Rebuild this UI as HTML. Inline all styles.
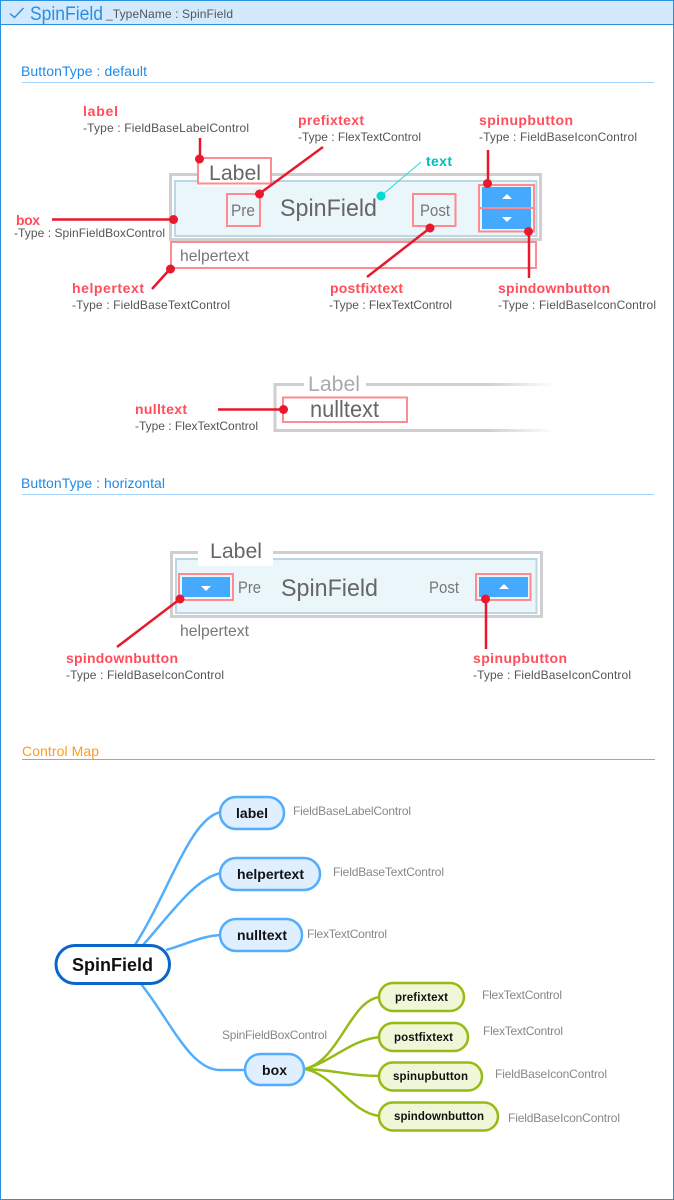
<!DOCTYPE html>
<html><head><meta charset="utf-8">
<style>
html,body{margin:0;padding:0;background:#fff}
svg{display:block}
text{font-family:"Liberation Sans",sans-serif}
.n{font-weight:bold;font-size:14px;fill:#ff4d5a}
.t{font-size:12px;fill:#555}
.g{font-size:16px;fill:#777}
.g2{font-size:16.500px;fill:#777}
.h{font-size:14px;fill:#1e8be8}
.c{font-size:12px;fill:#888}
.l{font-weight:bold;font-size:14px;fill:#111}
.s{font-weight:bold;font-size:11.500px;fill:#111}
</style></head><body>
<svg width="674" height="1200" viewBox="0 0 674 1200" xmlns="http://www.w3.org/2000/svg">
<defs>
<linearGradient id="fade" gradientUnits="userSpaceOnUse" x1="274" y1="0" x2="555" y2="0">
<stop offset="0" stop-color="#cfcfcf"/><stop offset=".76" stop-color="#cfcfcf"/><stop offset="1" stop-color="#fff"/>
</linearGradient>
</defs>
<rect width="674" height="1200" fill="#fff"/>
<rect x="1" y="1" width="672" height="23" fill="#d2e9fe"/>
<rect x="0" y="0" width="674" height="1" fill="#2a90e0"/>
<rect x="0" y="1199" width="674" height="1" fill="#2a90e0"/>
<rect x="0" y="0" width="1" height="1200" fill="#2a90e0"/>
<rect x="673" y="0" width="1" height="1200" fill="#2a90e0"/>
<rect x="0" y="24" width="674" height="1" fill="#2a90e0"/>
<path d="M10 13.500 L14.500 17.500 L23.500 8" fill="none" stroke="#2a90e0" stroke-width="1.500"/>
<text x="30" y="20" font-size="19.500" fill="#2a90e0" textLength="73" lengthAdjust="spacingAndGlyphs">SpinField</text>
<text x="106" y="18" font-size="12" fill="#555" textLength="127">_TypeName : SpinField</text>

<!-- default -->
<text x="21" y="76" class="h" textLength="126">ButtonType : default</text>
<line x1="22" y1="82.500" x2="654" y2="82.500" stroke="#a3d3fb"/>
<rect x="170.500" y="174.500" width="370" height="65" fill="#fff" stroke="#cfcfcf" stroke-width="3"/>
<rect x="175" y="181" width="361.500" height="55" fill="#eaf6f9" stroke="#bdd7e2" stroke-width="2"/>
<rect x="197" y="175" width="75" height="12" fill="#fff"/>
<rect x="198" y="158" width="73" height="25.500" fill="#fff" stroke="#ff8a8f" stroke-width="2"/>
<text x="209" y="180" font-size="21.500" fill="#666" textLength="52" lengthAdjust="spacingAndGlyphs">Label</text>
<rect x="227" y="194" width="33" height="32" fill="none" stroke="#ff8a8f" stroke-width="2"/>
<text x="231" y="216" class="g2" textLength="24" lengthAdjust="spacingAndGlyphs">Pre</text>
<text x="280" y="216" font-size="24.500" fill="#666" textLength="97" lengthAdjust="spacingAndGlyphs">SpinField</text>
<rect x="413" y="194" width="42.500" height="32" fill="none" stroke="#ff8a8f" stroke-width="2"/>
<text x="420" y="216" class="g2" textLength="30" lengthAdjust="spacingAndGlyphs">Post</text>
<rect x="482" y="187" width="49" height="20" fill="#45a9fd"/>
<rect x="482" y="209" width="49" height="20" fill="#45a9fd"/>
<rect x="479" y="185" width="55" height="46.500" fill="none" stroke="#ff8a8f" stroke-width="2"/>
<line x1="479" y1="208" x2="534" y2="208" stroke="#ff8a8f" stroke-width="2"/>
<path d="M502 199h10l-5-5z M502 217h10l-5 5z" fill="#fff"/>
<rect x="171" y="242" width="365" height="26" fill="#fff" stroke="#ff8a8f" stroke-width="2"/>
<text x="180" y="261" class="g" textLength="69" lengthAdjust="spacingAndGlyphs">helpertext</text>

<g stroke="#e8192c" stroke-width="2.500" fill="none">
<line x1="200" y1="138" x2="200" y2="159"/>
<line x1="323" y1="147" x2="259" y2="194"/>
<line x1="52" y1="219.500" x2="173" y2="219.500"/>
<line x1="152" y1="289" x2="170" y2="269"/>
<line x1="367" y1="277" x2="430" y2="228"/>
<line x1="488" y1="150" x2="488" y2="183"/>
<line x1="529" y1="231" x2="529" y2="278"/>
</g>
<line x1="381" y1="196" x2="421" y2="162" stroke="#1fdcd8" stroke-width="1"/>
<circle cx="381" cy="196" r="4.500" fill="#00dcd2"/>
<g fill="#e8192c">
<circle cx="199.500" cy="159" r="4.500"/><circle cx="259.500" cy="194" r="4.500"/>
<circle cx="173.500" cy="219.500" r="4.500"/><circle cx="170.500" cy="269" r="4.500"/>
<circle cx="430" cy="228" r="4.500"/><circle cx="487.500" cy="183.500" r="4.500"/>
<circle cx="528.500" cy="231.500" r="4.500"/>
</g>

<text x="83" y="116" class="n" textLength="35">label</text>
<text x="83" y="132" class="t" textLength="166">-Type : FieldBaseLabelControl</text>
<text x="298" y="125" class="n" textLength="66">prefixtext</text>
<text x="298" y="141" class="t" textLength="123">-Type : FlexTextControl</text>
<text x="426" y="166" font-size="14" font-weight="bold" fill="#00bfb8" textLength="26">text</text>
<text x="479" y="125" class="n" textLength="94">spinupbutton</text>
<text x="479" y="141" class="t" textLength="158">-Type : FieldBaseIconControl</text>
<text x="16" y="225" class="n" textLength="24">box</text>
<text x="14" y="237" class="t" textLength="151">-Type : SpinFieldBoxControl</text>
<text x="72" y="293" class="n" textLength="72">helpertext</text>
<text x="72" y="309" class="t" textLength="158">-Type : FieldBaseTextControl</text>
<text x="330" y="293" class="n" textLength="73">postfixtext</text>
<text x="329" y="309" class="t" textLength="123">-Type : FlexTextControl</text>
<text x="498" y="293" class="n" textLength="112">spindownbutton</text>
<text x="498" y="309" class="t" textLength="158">-Type : FieldBaseIconControl</text>

<!-- nulltext -->
<path d="M304 384.500 H275 V430.500 H555" fill="none" stroke="url(#fade)" stroke-width="3"/>
<line x1="366" y1="384.500" x2="555" y2="384.500" stroke="url(#fade)" stroke-width="3"/>
<text x="308" y="391" font-size="21.500" fill="#aaa" textLength="52" lengthAdjust="spacingAndGlyphs">Label</text>
<rect x="283" y="397.500" width="124" height="24.500" fill="#fff" stroke="#ff8a8f" stroke-width="2"/>
<line x1="218" y1="409.500" x2="283" y2="409.500" stroke="#e8192c" stroke-width="2.500"/>
<circle cx="283.500" cy="409.500" r="4.500" fill="#e8192c"/>
<text x="310" y="417" font-size="23" fill="#666" textLength="69" lengthAdjust="spacingAndGlyphs">nulltext</text>
<text x="135" y="414" class="n" textLength="52">nulltext</text>
<text x="135" y="430" class="t" textLength="123">-Type : FlexTextControl</text>

<!-- horizontal -->
<text x="21" y="488" class="h" textLength="144">ButtonType : horizontal</text>
<line x1="22" y1="494.500" x2="654" y2="494.500" stroke="#a3d3fb"/>
<rect x="171.500" y="552.500" width="370" height="64" fill="#fff" stroke="#cfcfcf" stroke-width="3"/>
<rect x="176" y="559" width="360.500" height="54" fill="#eaf6f9" stroke="#bdd7e2" stroke-width="2"/>
<rect x="198" y="538" width="75" height="28" fill="#fff"/>
<text x="210" y="558" font-size="21.500" fill="#666" textLength="52" lengthAdjust="spacingAndGlyphs">Label</text>
<rect x="182" y="577" width="48" height="20" fill="#45a9fd"/>
<rect x="179" y="574" width="54" height="26" fill="none" stroke="#ff8a8f" stroke-width="2"/>
<path d="M201 586h10l-5 5z" fill="#fff"/>
<text x="238" y="593" class="g2" textLength="23" lengthAdjust="spacingAndGlyphs">Pre</text>
<text x="281" y="596" font-size="24.500" fill="#666" textLength="97" lengthAdjust="spacingAndGlyphs">SpinField</text>
<text x="429" y="593" class="g2" textLength="30" lengthAdjust="spacingAndGlyphs">Post</text>
<rect x="479" y="577" width="49" height="20" fill="#45a9fd"/>
<rect x="476" y="574" width="54.500" height="26" fill="none" stroke="#ff8a8f" stroke-width="2"/>
<path d="M499 589h10l-5-5z" fill="#fff"/>
<line x1="117" y1="647" x2="180" y2="599" stroke="#e8192c" stroke-width="2.500"/>
<line x1="486" y1="599" x2="486" y2="649" stroke="#e8192c" stroke-width="2.500"/>
<circle cx="180" cy="599" r="4.500" fill="#e8192c"/><circle cx="485.500" cy="599" r="4.500" fill="#e8192c"/>
<text x="180" y="636" class="g" textLength="69" lengthAdjust="spacingAndGlyphs">helpertext</text>
<text x="66" y="663" class="n" textLength="112">spindownbutton</text>
<text x="66" y="679" class="t" textLength="158">-Type : FieldBaseIconControl</text>
<text x="473" y="663" class="n" textLength="94">spinupbutton</text>
<text x="473" y="679" class="t" textLength="158">-Type : FieldBaseIconControl</text>

<!-- control map -->
<text x="22" y="756" class="h" style="fill:#ff9a1e" textLength="77">Control Map</text>
<line x1="22" y1="759.500" x2="655" y2="759.500" stroke="#f5962a"/>

<g fill="none" stroke="#52aefc" stroke-width="2.500">
<path d="M135 945 C170 890 190 818 221 812"/>
<path d="M143 945 C170 915 195 878 221 873"/>
<path d="M166 950 C185 945 200 936 221 935"/>
<path d="M141 984 C170 1020 190 1070 220 1070 H246"/>
</g>
<g fill="none" stroke="#95bb14" stroke-width="2.500">
<path d="M305 1069 C340 1060 350 1000 380 997"/>
<path d="M305 1069 C335 1060 350 1040 380 1037"/>
<path d="M305 1069 C335 1070 350 1076 380 1076"/>
<path d="M305 1069 C335 1075 350 1113 380 1116"/>
</g>

<rect x="56" y="945.500" width="113.500" height="38" rx="19" fill="#fff" stroke="#0a66cc" stroke-width="3"/>
<text x="72" y="971" font-size="18" font-weight="bold" fill="#111" textLength="81">SpinField</text>
<g fill="#dfefff" stroke="#52aefc" stroke-width="2.500">
<rect x="220" y="797" width="64" height="32" rx="16"/>
<rect x="220" y="858" width="100" height="32" rx="16"/>
<rect x="220" y="919" width="82" height="32" rx="16"/>
<rect x="245" y="1054" width="59" height="31" rx="15.500"/>
</g>
<text x="236" y="818" class="l" textLength="32">label</text>
<text x="237" y="879" class="l" textLength="67">helpertext</text>
<text x="237" y="940" class="l" textLength="50">nulltext</text>
<text x="262" y="1075" class="l" textLength="25">box</text>
<g fill="#f0f7d8" stroke="#95bb14" stroke-width="2.500">
<rect x="379" y="983" width="85" height="28" rx="14"/>
<rect x="379" y="1023" width="89" height="28" rx="14"/>
<rect x="379" y="1062.500" width="103" height="28" rx="14"/>
<rect x="379" y="1102.500" width="119" height="28" rx="14"/>
</g>
<text x="395" y="1001" class="s" textLength="53">prefixtext</text>
<text x="394" y="1041" class="s" textLength="59">postfixtext</text>
<text x="393" y="1080" class="s" textLength="75">spinupbutton</text>
<text x="394" y="1120" class="s" textLength="90">spindownbutton</text>

<text x="293" y="815" class="c" textLength="118">FieldBaseLabelControl</text>
<text x="333" y="876" class="c" textLength="111">FieldBaseTextControl</text>
<text x="307" y="938" class="c" textLength="80">FlexTextControl</text>
<text x="222" y="1039" class="c" textLength="105">SpinFieldBoxControl</text>
<text x="482" y="999" class="c" textLength="80">FlexTextControl</text>
<text x="483" y="1035" class="c" textLength="80">FlexTextControl</text>
<text x="495" y="1078" class="c" textLength="112">FieldBaseIconControl</text>
<text x="508" y="1122" class="c" textLength="112">FieldBaseIconControl</text>
</svg>
</body></html>
